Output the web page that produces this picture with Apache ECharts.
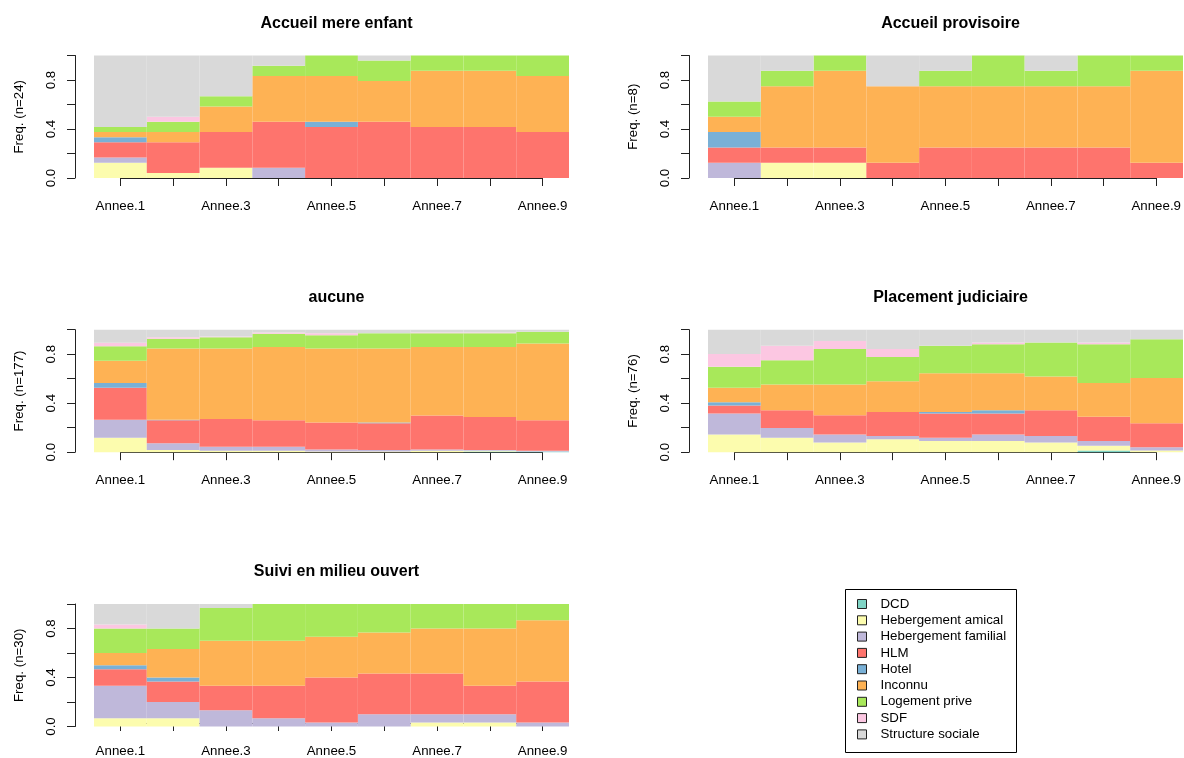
<!DOCTYPE html>
<html>
<head>
<meta charset="utf-8">
<script src="https://cdn.jsdelivr.net/npm/echarts@6/dist/echarts.min.js"></script>
<style>
  html, body { margin: 0; padding: 0; background: #fff; }
  #chart { width: 1184px; height: 758px; }
</style>
</head>
<body>
<div id="chart"></div>
<script>
// Years on the horizontal axis
const categories = ['Annee.1', 'Annee.2', 'Annee.3', 'Annee.4', 'Annee.5', 'Annee.6', 'Annee.7', 'Annee.8', 'Annee.9'];

// Housing states, stacked bottom to top in this order
const states = ['DCD', 'Hebergement amical', 'Hebergement familial', 'HLM', 'Hotel',
                'Inconnu', 'Logement prive', 'SDF', 'Structure sociale'];
const stateColors = ['#7fd4c5', '#fcfcae', '#bfb8da', '#fe746d', '#79b0d6',
                     '#feb254', '#a8e85a', '#fcc7e2', '#d9d9d9'];

const panelTitles = ['Accueil mere enfant', 'Accueil provisoire', 'aucune',
                     'Placement judiciaire', 'Suivi en milieu ouvert'];

// Counts per state (rows, same order as `states`) and per year (columns)
const accueilMereEnfant = [
  [0, 0, 0, 0, 0, 0, 0, 0, 0],
  [3, 1, 2, 0, 0, 0, 0, 0, 0],
  [1, 0, 0, 2, 0, 0, 0, 0, 0],
  [3, 6, 7, 9, 10, 11, 10, 10, 9],
  [1, 0, 0, 0, 1, 0, 0, 0, 0],
  [1, 2, 5, 9, 9, 8, 11, 11, 11],
  [1, 2, 2, 2, 4, 4, 3, 3, 4],
  [0, 1, 0, 0, 0, 0, 0, 0, 0],
  [14, 12, 8, 2, 0, 1, 0, 0, 0]
];
const accueilProvisoire = [
  [0, 0, 0, 0, 0, 0, 0, 0, 0],
  [0, 1, 1, 0, 0, 0, 0, 0, 0],
  [1, 0, 0, 0, 0, 0, 0, 0, 0],
  [1, 1, 1, 1, 2, 2, 2, 2, 1],
  [1, 0, 0, 0, 0, 0, 0, 0, 0],
  [1, 4, 5, 5, 4, 4, 4, 4, 6],
  [1, 1, 1, 0, 1, 2, 1, 2, 1],
  [0, 0, 0, 0, 0, 0, 0, 0, 0],
  [3, 1, 0, 2, 1, 0, 1, 0, 0]
];
const aucune = [
  [0, 0, 0, 0, 0, 0, 0, 1, 1],
  [21, 3, 2, 2, 1, 1, 2, 1, 0],
  [26, 10, 6, 6, 3, 2, 2, 1, 1],
  [46, 33, 40, 38, 39, 39, 49, 48, 44],
  [7, 1, 0, 0, 0, 1, 0, 0, 0],
  [32, 103, 102, 106, 107, 107, 99, 101, 111],
  [21, 14, 16, 19, 19, 22, 20, 20, 17],
  [5, 2, 1, 2, 3, 0, 1, 1, 0],
  [19, 11, 10, 4, 5, 5, 4, 4, 3]
];
const placementJudiciaire = [
  [0, 0, 0, 0, 0, 0, 0, 1, 0],
  [11, 9, 6, 8, 7, 7, 6, 3, 1],
  [13, 6, 5, 2, 2, 4, 4, 3, 2],
  [5, 11, 12, 15, 15, 13, 16, 15, 15],
  [2, 0, 0, 0, 1, 2, 0, 0, 0],
  [9, 16, 19, 19, 24, 23, 21, 21, 28],
  [13, 15, 22, 15, 17, 18, 21, 24, 24],
  [8, 9, 5, 5, 0, 1, 0, 1, 0],
  [15, 10, 7, 12, 10, 8, 8, 8, 6]
];
const suiviMilieuOuvert = [
  [0, 0, 0, 0, 0, 0, 0, 0, 0],
  [2, 2, 0, 0, 0, 0, 1, 1, 0],
  [8, 4, 4, 2, 1, 3, 2, 2, 1],
  [4, 5, 6, 8, 11, 10, 10, 7, 10],
  [1, 1, 0, 0, 0, 0, 0, 0, 0],
  [3, 7, 11, 11, 10, 10, 11, 14, 15],
  [6, 5, 8, 9, 8, 7, 6, 6, 4],
  [1, 0, 0, 0, 0, 0, 0, 0, 0],
  [5, 6, 1, 0, 0, 0, 0, 0, 0]
];
const panelCounts = [accueilMereEnfant, accueilProvisoire, aucune, placementJudiciaire, suiviMilieuOuvert];

// Page layout: two columns of panels, three rows
const FONT = '"Liberation Sans", Arial, Helvetica, sans-serif';
const COL_LEFT = [94, 708];
const ROW_TOP = [55.5, 329.7, 604];
const PLOT_W = 475;
const PLOT_H = 122.5;
const AXIS_COLOR = '#222';

const grid = [], xAxis = [], yAxis = [], series = [], title = [];

panelCounts.forEach((counts, p) => {
  const left = COL_LEFT[p % 2];
  const top = ROW_TOP[Math.floor(p / 2)];
  const n = counts.reduce((s, row) => s + row[0], 0);
  const gBars = grid.length;

  // plotting region with the stacked bars and the frequency axis
  grid.push({ left: left, top: top, width: PLOT_W, height: PLOT_H, containLabel: false });
  xAxis.push({ type: 'category', gridIndex: gBars, data: categories, show: false, boundaryGap: true });
  yAxis.push({
    type: 'value', gridIndex: gBars, min: 0, max: 1, interval: 0.2, offset: 19,
    splitLine: { show: false },
    axisLine: { show: true, lineStyle: { color: AXIS_COLOR, width: 1 } },
    axisTick: { show: true, inside: false, length: 8, lineStyle: { color: AXIS_COLOR } },
    axisLabel: {
      rotate: 90, margin: 17, color: '#000', fontFamily: FONT, fontSize: 13.3,
      formatter: v => (Math.round(v * 10) % 4 === 0 && v < 0.95) ? v.toFixed(1) : ''
    },
    name: 'Freq. (n=' + n + ')', nameLocation: 'middle', nameRotate: 90, nameGap: 49,
    nameTextStyle: { color: '#000', fontFamily: FONT, fontSize: 13.3 }
  });

  // year axis running from the first bar centre to the last one
  const gAxis = grid.length;
  grid.push({ left: left + PLOT_W / 18, top: top, width: PLOT_W * 8 / 9, height: PLOT_H, containLabel: false });
  xAxis.push({
    type: 'category', gridIndex: gAxis, data: categories, boundaryGap: false, offset: 3,
    axisLine: { show: true, lineStyle: { color: AXIS_COLOR, width: 1 } },
    axisTick: { show: true, inside: false, length: 8, interval: 0, lineStyle: { color: AXIS_COLOR } },
    axisLabel: { interval: 1, margin: 19, color: '#000', fontFamily: FONT, fontSize: 13.3 },
    splitLine: { show: false }
  });
  yAxis.push({ type: 'value', gridIndex: gAxis, show: false, min: 0, max: 1 });

  title.push({
    text: panelTitles[p], left: left + PLOT_W / 2, top: top - 45, textAlign: 'center',
    textStyle: { fontFamily: FONT, fontSize: 16, fontWeight: 'bold', color: '#000' }
  });

  states.forEach((state, s) => {
    series.push({
      type: 'bar', name: state, stack: 'panel' + p,
      xAxisIndex: gBars, yAxisIndex: gBars,
      barCategoryGap: '0%', barGap: '0%',
      itemStyle: { color: stateColors[s], borderWidth: 0 },
      emphasis: { disabled: true },
      data: counts[s].map(c => c / n)
    });
  });
});

const chart = echarts.init(document.getElementById('chart'), null, { renderer: 'canvas' });
chart.setOption({
  animation: false,
  backgroundColor: '#fff',
  title: title,
  grid: grid,
  xAxis: xAxis,
  yAxis: yAxis,
  series: series,
  legend: {
    data: states, orient: 'vertical', left: 857, top: 596, padding: 0,
    itemWidth: 9, itemHeight: 9, itemGap: 0.3, icon: 'rect',
    itemStyle: { borderColor: '#222', borderWidth: 1 },
    textStyle: { fontFamily: FONT, fontSize: 13.3, color: '#000', lineHeight: 16, padding: [0, 0, 0, 9] },
    selectedMode: false
  },
  graphic: [{
    type: 'rect', left: 843, top: 587,
    shape: { width: 171, height: 163 },
    style: { fill: 'none', stroke: '#000', lineWidth: 1 }
  }]
});
</script>
</body>
</html>
